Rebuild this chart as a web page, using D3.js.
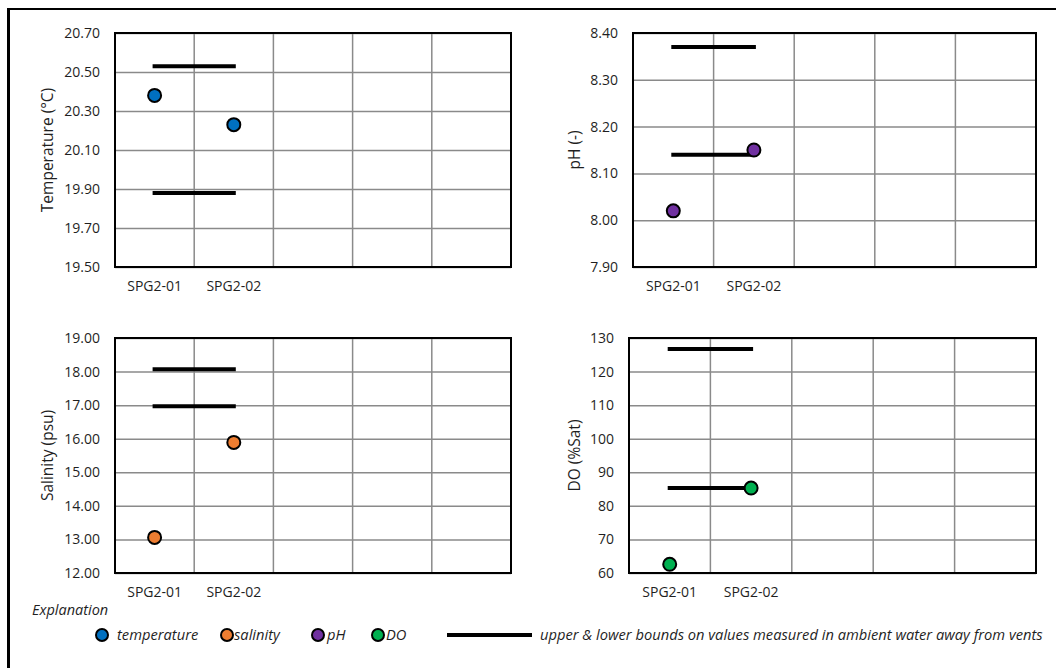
<!DOCTYPE html>
<html>
<head>
<meta charset="utf-8">
<script src="https://cdn.jsdelivr.net/npm/d3@7"></script>
<style>
  html, body { margin: 0; padding: 0; background: #fff; }
  svg { display: block; font-family: "Open Sans", "Noto Sans", sans-serif; }
</style>
</head>
<body>
<svg id="chart" width="1056" height="668"></svg>
<script>
// Sampling sites (only the first two of five category slots are used)
const sites = ["SPG2-01", "SPG2-02"];
const slotCount = 5;

// Measured values at the vent sites
const temperature = [20.38, 20.23];
const pH = [8.02, 8.15];
const salinity = [13.06, 15.89];
const dissolvedOxygen = [62.6, 85.3];

// Lower & upper bounds measured in ambient water away from vents
const temperatureBounds = [19.88, 20.53];
const pHBounds = [8.14, 8.37];
const salinityBounds = [16.97, 18.07];
const dissolvedOxygenBounds = [85.3, 126.7];

// Y-axis tick values
const temperatureTicks = [19.5, 19.7, 19.9, 20.1, 20.3, 20.5, 20.7];
const pHTicks = [7.9, 8.0, 8.1, 8.2, 8.3, 8.4];
const salinityTicks = [12, 13, 14, 15, 16, 17, 18, 19];
const dissolvedOxygenTicks = [60, 70, 80, 90, 100, 110, 120, 130];

const svg = d3.select("#chart");
const textColor = "#1f1f1f";

// Outer frame (left and top edges)
svg.append("line").attr("x1", 8.5).attr("x2", 8.5).attr("y1", 8).attr("y2", 668)
  .attr("stroke", "#000").attr("stroke-width", 3);
svg.append("line").attr("x1", 7).attr("x2", 1056).attr("y1", 9).attr("y2", 9)
  .attr("stroke", "#000").attr("stroke-width", 2);

const panels = [
  { title: "Temperature (°C)", values: temperature, bounds: temperatureBounds,
    ticks: temperatureTicks, fmt: d3.format(".2f"), color: "#0070C0",
    x0: 115, x1: 511, y0: 33, y1: 267, titleX: 48 },
  { title: "pH (-)", values: pH, bounds: pHBounds,
    ticks: pHTicks, fmt: d3.format(".2f"), color: "#7030A0",
    x0: 633, x1: 1036, y0: 33, y1: 267, titleX: 575 },
  { title: "Salinity (psu)", values: salinity, bounds: salinityBounds,
    ticks: salinityTicks, fmt: d3.format(".2f"), color: "#ED7D31",
    x0: 115, x1: 511, y0: 338, y1: 573, titleX: 48 },
  { title: "DO (%Sat)", values: dissolvedOxygen, bounds: dissolvedOxygenBounds,
    ticks: dissolvedOxygenTicks, fmt: d3.format("d"), color: "#00B050",
    x0: 629, x1: 1036, y0: 338, y1: 573, titleX: 575 }
];

panels.forEach(p => {
  const x = d3.scaleBand().domain(d3.range(slotCount)).range([p.x0, p.x1]).padding(0);
  const y = d3.scaleLinear()
    .domain([d3.min(p.ticks), d3.max(p.ticks)])
    .range([p.y1, p.y0]);
  const w = p.x1 - p.x0;
  const g = svg.append("g");

  // Horizontal gridlines
  g.append("g")
    .attr("transform", `translate(${p.x0},0)`)
    .call(d3.axisLeft(y).tickValues(p.ticks).tickSize(-w).tickFormat(""))
    .call(s => s.select(".domain").remove())
    .call(s => s.selectAll("line").attr("stroke", "#8a8a8a").attr("stroke-width", 1.5));

  // Vertical gridlines between category slots
  g.append("g").selectAll("line")
    .data(d3.range(1, slotCount))
    .join("line")
    .attr("x1", i => x(i)).attr("x2", i => x(i))
    .attr("y1", p.y0).attr("y2", p.y1)
    .attr("stroke", "#8a8a8a").attr("stroke-width", 1.5);

  // Plot-area border
  g.append("rect")
    .attr("x", p.x0).attr("y", p.y0).attr("width", w).attr("height", p.y1 - p.y0)
    .attr("fill", "none").attr("stroke", "#000").attr("stroke-width", 2);

  // Y tick labels
  g.append("g")
    .attr("transform", `translate(${p.x0},0)`)
    .call(d3.axisLeft(y).tickValues(p.ticks).tickSize(0).tickPadding(15).tickFormat(p.fmt))
    .call(s => s.select(".domain").remove())
    .call(s => s.selectAll("text")
      .attr("font-family", "Open Sans").attr("font-size", 14).attr("fill", textColor));

  // Category labels
  g.append("g")
    .attr("transform", `translate(0,${p.y1})`)
    .call(d3.axisBottom(x).tickSize(0).tickPadding(14)
      .tickFormat(i => sites[i] !== undefined ? sites[i] : ""))
    .call(s => s.select(".domain").remove())
    .call(s => s.selectAll("text")
      .attr("font-family", "Open Sans").attr("font-size", 14).attr("fill", textColor));

  // Y-axis title
  g.append("text")
    .attr("transform", `translate(${p.titleX},${(p.y0 + p.y1) / 2}) rotate(-90)`)
    .attr("text-anchor", "middle")
    .attr("dy", "0.35em")
    .attr("font-size", 15.5)
    .attr("fill", textColor)
    .text(p.title);

  // Ambient-water bounds, spanning both sites
  const cx = i => x(i) + x.bandwidth() / 2;
  g.append("g").selectAll("line")
    .data(p.bounds)
    .join("line")
    .attr("x1", cx(0)).attr("x2", cx(sites.length - 1))
    .attr("y1", d => y(d)).attr("y2", d => y(d))
    .attr("stroke", "#000").attr("stroke-width", 4).attr("stroke-linecap", "square");

  // Site measurements
  g.append("g").selectAll("circle")
    .data(p.values)
    .join("circle")
    .attr("cx", (d, i) => cx(i))
    .attr("cy", d => y(d))
    .attr("r", 6.5)
    .attr("fill", p.color)
    .attr("stroke", "#000")
    .attr("stroke-width", 2);
});

// Explanation / legend
svg.append("text")
  .attr("x", 32).attr("y", 615)
  .attr("font-size", 14.5).attr("font-style", "italic").attr("fill", textColor)
  .text("Explanation");

const legendItems = [
  { label: "temperature", color: "#0070C0", cx: 102, tx: 117 },
  { label: "salinity", color: "#ED7D31", cx: 227, tx: 234 },
  { label: "pH", color: "#7030A0", cx: 318, tx: 327 },
  { label: "DO", color: "#00B050", cx: 378, tx: 386 }
];
const legend = svg.append("g");
legendItems.forEach(it => {
  legend.append("circle")
    .attr("cx", it.cx).attr("cy", 635).attr("r", 6)
    .attr("fill", it.color).attr("stroke", "#000").attr("stroke-width", 2);
  legend.append("text")
    .attr("x", it.tx).attr("y", 640)
    .attr("font-size", 14.7).attr("font-style", "italic").attr("fill", textColor)
    .text(it.label);
});
legend.append("line")
  .attr("x1", 447).attr("x2", 532).attr("y1", 635).attr("y2", 635)
  .attr("stroke", "#000").attr("stroke-width", 4);
legend.append("text")
  .attr("x", 540).attr("y", 640)
  .attr("font-size", 14.7).attr("font-style", "italic").attr("fill", textColor)
  .text("upper & lower bounds on values measured in ambient water away from vents");
</script>
</body>
</html>
